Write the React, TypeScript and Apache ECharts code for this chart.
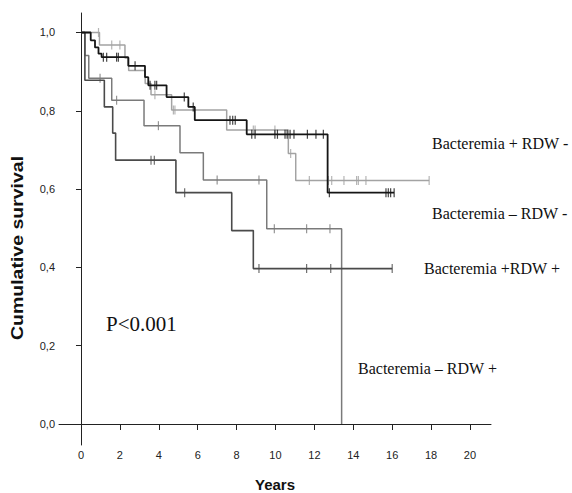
import React, { useEffect, useRef } from "react";
import * as echarts from "echarts";

// Tick values
const xTickValues = [0, 2, 4, 6, 8, 10, 12, 14, 16, 18, 20];
const yTickValues = [0, 0.2, 0.4, 0.6, 0.8, 1.0];

// Kaplan-Meier step points [years, survival]
const blackSteps: [number, number][] = [
  [0, 1.0], [0.5, 0.98], [0.72, 0.962], [0.9, 0.946], [1.06, 0.937], [2.43, 0.915],
  [3.29, 0.886], [3.46, 0.865], [4.4, 0.835], [5.52, 0.81], [5.85, 0.776], [8.52, 0.74],
  [12.68, 0.591], [16.1, 0.591],
];
const blackCensor = [1.15, 1.32, 1.83, 1.92, 2.78, 3.55, 3.8, 3.89, 5.31, 5.77, 7.66, 7.8, 7.93,
  8.78, 8.95, 9.97, 10.1, 10.49, 10.6, 10.75, 10.95, 11.64, 12.08, 12.46, 12.77, 15.68, 15.8, 15.92, 16.1];

const lightSteps: [number, number][] = [
  [0, 1.0], [0.95, 0.968], [2.26, 0.935], [2.45, 0.903], [3.3, 0.87], [3.6, 0.841],
  [4.66, 0.802], [7.49, 0.751], [10.66, 0.691], [11.04, 0.622], [17.9, 0.622],
];
const lightCensor = [0.9, 1.58, 2.0, 3.8, 4.75, 4.83, 8.86, 8.95, 9.97, 10.78, 11.74, 12.72, 12.89,
  13.52, 14.17, 14.26, 14.65, 17.9];

const mediumSteps: [number, number][] = [
  [0, 1.0], [0.2, 0.941], [0.4, 0.883], [1.58, 0.827], [3.24, 0.762], [5.09, 0.693],
  [6.29, 0.623], [9.55, 0.499], [13.4, 0.0],
];
const mediumCensor = [0.98, 1.83, 3.98, 7.0, 9.15, 9.94, 11.6, 12.8];

const darkSteps: [number, number][] = [
  [0, 1.0], [0.2, 0.878], [1.2, 0.81], [1.63, 0.743], [1.78, 0.674], [4.88, 0.591],
  [7.75, 0.494], [8.86, 0.397], [16.0, 0.397],
];
const darkCensor = [3.6, 3.77, 5.33, 9.15, 11.6, 12.84, 16.0];

// Text labels
const groupLabels = ["Bacteremia + RDW -", "Bacteremia – RDW -", "Bacteremia +RDW +", "Bacteremia – RDW +"];
const pValueText = "P<0.001";
const xTitle = "Years";
const yTitle = "Cumulative survival";

function survivalAt(steps: [number, number][], t: number): number {
  let s = steps[0][1];
  for (const [x, v] of steps) {
    if (x <= t) s = v;
  }
  return s;
}

function censorPoints(steps: [number, number][], times: number[]) {
  return times.map((t) => [t, survivalAt(steps, t)]);
}

export default function App() {
  const ref = useRef<HTMLDivElement>(null);
  useEffect(() => {
    const chart = echarts.init(ref.current!, null, { renderer: "svg" });
    const curve = (data: [number, number][], color: string, width: number, z: number) => ({
      type: "line",
      data,
      step: "end",
      symbol: "none",
      z,
      lineStyle: { color, width },
    });
    const marks = (data: number[][], color: string, z: number) => ({
      type: "scatter",
      data,
      symbol: "rect",
      symbolSize: [1.2, 9],
      z,
      itemStyle: { color },
    });
    chart.setOption({
      animation: false,
      backgroundColor: "#ffffff",
      grid: { left: 59, right: 81, top: 13, bottom: 48 },
      xAxis: {
        type: "value",
        min: -1.131,
        max: 21.08,
        splitLine: { show: false },
        axisLine: { show: true, lineStyle: { color: "#222", width: 1 } },
        axisTick: { show: true, customValues: xTickValues, length: 6, lineStyle: { color: "#222" } },
        axisLabel: {
          customValues: xTickValues,
          margin: 4,
          color: "#222",
          fontSize: 11,
          fontFamily: "Liberation Sans",
        },
      },
      yAxis: {
        type: "value",
        min: -0.0536,
        max: 1.0498,
        splitLine: { show: false },
        axisLine: { show: true, lineStyle: { color: "#222", width: 1 } },
        axisTick: { show: true, customValues: yTickValues, length: 5, lineStyle: { color: "#222" } },
        axisLabel: {
          customValues: yTickValues,
          margin: 4,
          color: "#222",
          fontSize: 11,
          fontFamily: "Liberation Sans",
          formatter: (v: number) => v.toFixed(1).replace(".", ","),
        },
      },
      series: [
        curve(lightSteps, "#a3a3a3", 1.5, 2),
        marks(censorPoints(lightSteps, lightCensor), "#a3a3a3", 2),
        curve(mediumSteps, "#7a7a7a", 1.5, 3),
        marks(censorPoints(mediumSteps, mediumCensor), "#7a7a7a", 3),
        curve(darkSteps, "#4a4a4a", 1.6, 4),
        marks(censorPoints(darkSteps, darkCensor), "#4a4a4a", 4),
        curve(blackSteps, "#151515", 1.8, 5),
        marks(censorPoints(blackSteps, blackCensor), "#151515", 5),
      ],
      graphic: [
        {
          type: "text", x: 432, y: 143,
          style: { text: groupLabels[0], font: "16px 'Liberation Serif'", fill: "#111", verticalAlign: "middle" },
        },
        {
          type: "text", x: 432, y: 213,
          style: { text: groupLabels[1], font: "16px 'Liberation Serif'", fill: "#111", verticalAlign: "middle" },
        },
        {
          type: "text", x: 424, y: 268,
          style: { text: groupLabels[2], font: "16px 'Liberation Serif'", fill: "#111", verticalAlign: "middle" },
        },
        {
          type: "text", x: 358, y: 368,
          style: { text: groupLabels[3], font: "16px 'Liberation Serif'", fill: "#111", verticalAlign: "middle" },
        },
        {
          type: "text", x: 106, y: 324,
          style: { text: pValueText, font: "21px 'Liberation Serif'", fill: "#111", verticalAlign: "middle" },
        },
        {
          type: "text", x: 275, y: 484.5,
          style: { text: xTitle, font: "bold 15px 'Liberation Sans'", fill: "#111", align: "center", verticalAlign: "middle" },
        },
        {
          type: "text", x: 18, y: 248, rotation: Math.PI / 2, scaleX: 1.22,
          style: { text: yTitle, font: "bold 16px 'Liberation Sans'", fill: "#111", align: "center", verticalAlign: "middle" },
        },
      ],
    });
    return () => chart.dispose();
  }, []);
  return <div ref={ref} style={{ position: "fixed", left: 0, top: 0, width: 572, height: 493 }} />;
}
